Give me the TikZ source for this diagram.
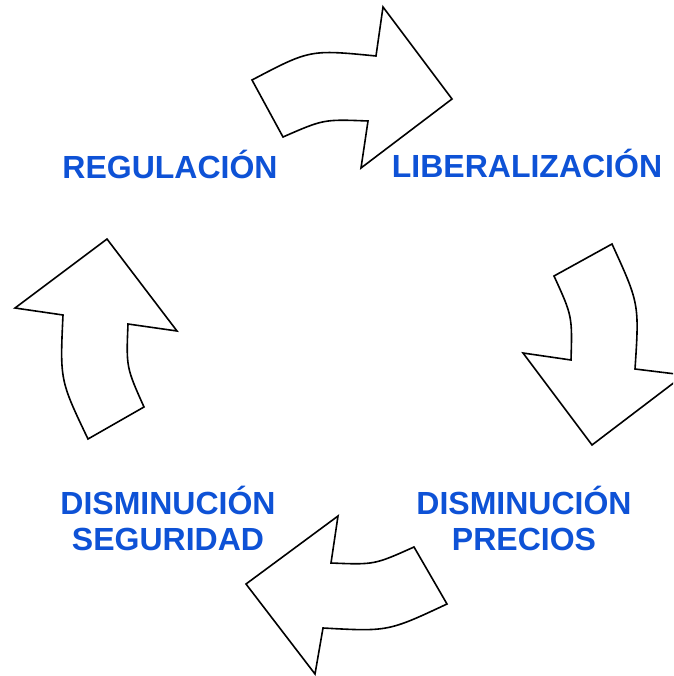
\documentclass[tikz,border=0pt]{standalone}
\usepackage{fontspec}
\setmainfont{Liberation Sans}
\definecolor{lblblue}{RGB}{14,82,214}
\tikzset{
  cyclearrow/.style={draw=black, fill=white, line width=1.6pt, line join=miter},
  lbl/.style={text=lblblue, font=\fontsize{32}{36}\selectfont\bfseries, inner sep=0pt, align=center}
}
\begin{document}
\begin{tikzpicture}[x=1pt,y=-1pt]
\clip (0,0) rectangle (673,676);
% top arrow
\draw[cyclearrow] (252,80) .. controls (310,49.5) .. (376,56) -- (383,7) -- (452,99) -- (361,168) -- (368,121)
  .. controls (323.7,119.2) .. (283,137) -- cycle;
% right arrow
\draw[cyclearrow] (612,244) -- (554,276) .. controls (572.3,316) .. (571,360) -- (523,353) -- (592,445) -- (684,375) -- (635,369)
  .. controls (639.3,303.7) .. (612,244) -- cycle;
% bottom arrow
\draw[cyclearrow] (414,547) -- (447,604) .. controls (388,631.6) .. (323,628) -- (315,674) -- (246,584) -- (338,516) -- (331,563)
  .. controls (374.3,564.8) .. (414,547) -- cycle;
% left arrow
\draw[cyclearrow] (88,439) -- (144,407) .. controls (126.2,367.3) .. (128,324) -- (177,331) -- (107,239) -- (15,308) -- (63,315)
  .. controls (59.9,380.2) .. (88,439) -- cycle;
% labels
\node[lbl, anchor=base] (reg) at (170,179) {REGULACIÓN};
\node[lbl, anchor=base] (lib) at (527,178) {LIBERALIZACIÓN};
\node[lbl, anchor=base] (dsl1) at (168,550) {DISMINUCIÓN\\SEGURIDAD};
\node[lbl, anchor=base] (dpr1) at (524,550) {DISMINUCIÓN\\PRECIOS};
\end{tikzpicture}
\end{document}
